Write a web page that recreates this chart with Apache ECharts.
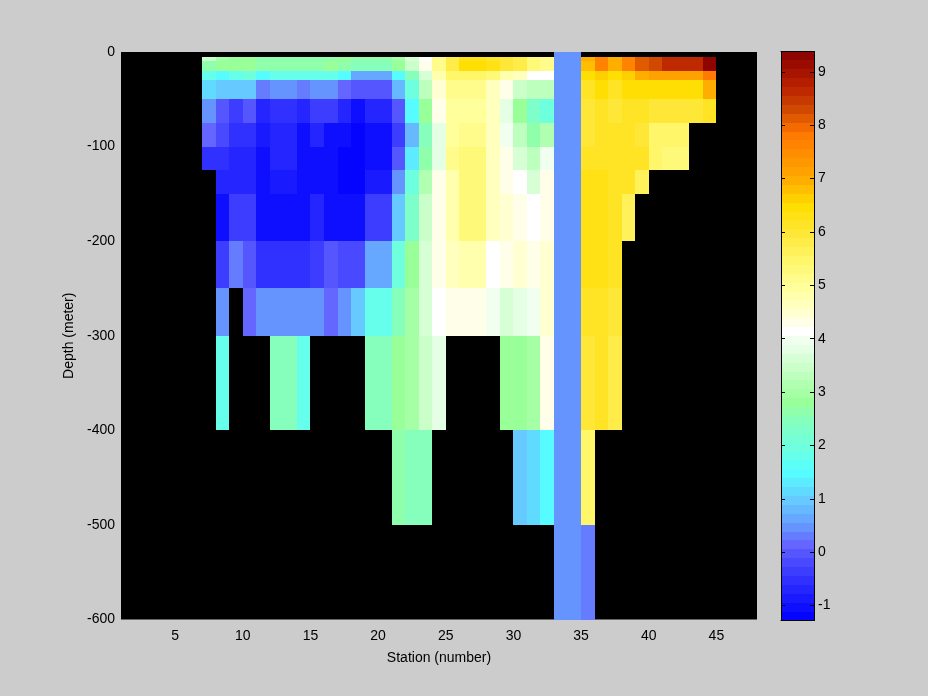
<!DOCTYPE html>
<html>
<head>
<meta charset="utf-8">
<script src="https://cdn.jsdelivr.net/npm/echarts@6/dist/echarts.min.js"></script>
<style>
html,body{margin:0;padding:0;background:#cccccc;}
#chart{width:928px;height:696px;}
</style>
</head>
<body>
<div id="chart"></div>
<script>
// ---------------- data ----------------
const NA = null;
// left edge of each station cell (cells span station .. station+1)
const stations = [7,8,9,10,11,12,13,14,15,16,17,18,19,20,21,22,23,24,25,26,27,28,29,30,31,32,33,34,35,36,37,38,39,40,41,42,43,44];
// depth layer boundaries (m)
const depthEdges = [0,5,10,20,30,50,75,100,125,150,200,250,300,400,500,600];
// x tick labels, colorbar tick labels
const stationTicks = [5,10,15,20,25,30,35,40,45];
const colorTicks = [-1,0,1,2,3,4,5,6,7,8,9];
const colorMin = -1.28, colorMax = 9.38;

// temperature per depth layer, one value per station of `stations`
const t0_5    = [NA,NA,NA,NA,NA,NA,NA,NA,NA,NA,NA,NA,NA,NA,NA,NA,NA,NA,NA,NA,NA,NA,NA,NA,NA,NA,0.4,0.4,NA,NA,NA,NA,NA,NA,NA,NA,NA,NA];
const t5_10   = [3.5,3.05,2.8,2.8,2.65,2.65,2.65,2.65,2.65,2.7,2.8,2.7,2.7,2.7,2.9,3.65,4.15,5.2,5.85,6.25,6.25,6.05,6.0,5.85,5.35,5.2,0.4,0.4,7.0,7.55,7.0,7.55,8.05,8.35,8.7,8.7,8.7,9.25];
const t10_20  = [2.6,2.8,2.8,2.8,2.6,2.6,2.6,2.6,2.6,2.8,2.6,2.4,2.4,2.4,2.8,3.5,4.25,5.2,5.8,6.4,6.4,6.3,6.0,5.8,5.35,5.2,0.4,0.4,6.85,7.55,7.0,7.55,8.05,8.3,8.7,8.7,8.7,9.25];
const t20_30  = [1.75,1.55,1.75,2.0,1.55,1.75,1.75,1.75,1.75,1.75,1.4,0.7,0.7,0.7,1.4,2.45,3.65,4.85,5.5,5.5,5.5,5.35,4.85,4.55,4.15,4.05,0.4,0.4,6.4,6.7,6.4,6.7,6.9,7.2,7.2,7.2,7.2,7.85];
const t30_50  = [1.15,1.0,1.0,1.0,0.33,0.5,0.5,0.33,0.5,0.5,0.12,-0.02,-0.02,-0.02,0.75,2.05,3.3,4.4,5.2,5.2,5.2,4.55,4.3,3.5,3.3,3.3,0.4,0.4,6.1,6.4,6.1,6.4,6.5,6.5,6.5,6.5,6.5,7.0];
const t50_75  = [0.5,0.05,-0.35,-0.05,-0.75,-0.45,-0.45,-0.65,-0.35,-0.35,-0.75,-0.95,-0.75,-0.75,0.05,1.5,2.8,4.25,4.95,4.95,4.95,4.55,3.85,2.8,2.3,2.05,0.4,0.4,5.95,6.2,5.95,6.2,6.05,5.95,5.95,5.95,5.95,6.15];
const t75_100 = [0.12,-0.25,-0.55,-0.55,-0.85,-0.65,-0.65,-0.95,-0.75,-0.95,-1.05,-1.2,-1.05,-1.05,-0.3,0.8,2.5,3.85,5.0,5.2,5.2,4.55,4.0,3.3,2.7,3.1,0.4,0.4,6.0,6.2,6.2,6.2,6.0,5.5,5.5,5.5,NA,NA];
const t100_125= [-0.55,-0.55,-0.7,-0.7,-0.95,-0.65,-0.65,-1.0,-0.95,-1.05,-1.2,-1.2,-1.05,-1.05,-0.05,1.3,2.7,3.85,5.2,5.25,5.25,4.55,4.25,3.65,3.3,4.0,0.4,0.4,6.1,6.2,6.2,6.2,6.2,5.5,5.35,5.35,NA,NA];
const t125_150= [NA,-0.75,-0.75,-0.75,-0.95,-0.85,-0.85,-1.05,-0.95,-1.05,-1.2,-1.2,-0.85,-0.85,0.4,2.05,3.1,4.25,4.85,5.25,5.25,4.55,4.3,4.2,3.65,4.25,0.4,0.4,6.35,6.35,6.1,6.1,5.7,NA,NA,NA,NA,NA];
const t150_200= [NA,-0.95,-0.35,-0.35,-0.95,-0.95,-0.95,-0.95,-0.75,-1.0,-1.1,-1.0,-0.35,-0.35,1.0,2.3,3.5,4.25,4.85,5.25,5.25,4.55,4.45,4.3,4.05,4.3,0.4,0.4,6.35,6.35,6.1,5.7,NA,NA,NA,NA,NA,NA];
const t200_250= [NA,-0.35,0.33,0.05,-0.55,-0.55,-0.55,-0.45,-0.35,-0.1,-0.25,-0.15,0.6,0.6,2.05,2.8,3.65,4.25,4.55,4.85,4.85,4.15,4.3,4.4,4.3,4.4,0.4,0.4,6.35,6.35,6.1,NA,NA,NA,NA,NA,NA,NA];
const t250_300= [NA,0.45,NA,0.2,0.45,0.45,0.45,0.45,0.45,0.2,0.5,1.0,1.75,1.75,2.45,2.95,3.65,4.2,4.3,4.3,4.3,4.0,3.65,3.85,4.0,4.4,0.4,0.4,6.1,6.2,6.0,NA,NA,NA,NA,NA,NA,NA];
const t300_400= [NA,1.75,NA,NA,NA,2.45,2.45,1.75,NA,NA,NA,NA,2.45,2.45,2.8,2.95,3.5,3.85,NA,NA,NA,NA,2.8,2.8,3.0,4.25,0.4,0.4,5.95,6.1,5.8,NA,NA,NA,NA,NA,NA,NA];
const t400_500= [NA,NA,NA,NA,NA,NA,NA,NA,NA,NA,NA,NA,NA,NA,2.6,2.45,2.45,NA,NA,NA,NA,NA,NA,0.9,1.15,1.5,0.4,0.4,5.45,NA,NA,NA,NA,NA,NA,NA,NA,NA];
const t500_600= [NA,NA,NA,NA,NA,NA,NA,NA,NA,NA,NA,NA,NA,NA,NA,NA,NA,NA,NA,NA,NA,NA,NA,NA,NA,NA,0.4,0.4,0.27,NA,NA,NA,NA,NA,NA,NA,NA,NA];

const layers = [t0_5,t5_10,t10_20,t20_30,t30_50,t50_75,t75_100,t100_125,t125_150,t150_200,t200_250,t250_300,t300_400,t400_500,t500_600];

// ---------------- colormap (64 discrete levels) ----------------
const cmapStops = [
  [-1.28,'#0000ff'],[-0.95,'#1414ff'],[-0.5,'#3333ff'],[0,'#5858ff'],[0.15,'#6666ff'],
  [0.5,'#6699ff'],[1.0,'#66ccff'],[1.5,'#55ffff'],[2.0,'#70ffdd'],[2.5,'#88ffbb'],
  [2.8,'#99ff99'],[3.5,'#ccffcc'],[4.15,'#ffffff'],[4.5,'#ffffcc'],[5.0,'#ffff99'],
  [5.5,'#fff566'],[6.0,'#ffe633'],[6.5,'#ffdd00'],[7.0,'#ffaa00'],[7.55,'#ff8800'],
  [7.85,'#ff7700'],[8.35,'#cc4400'],[8.7,'#bb2200'],[9.38,'#880000']
];
const nLevels = 64;
function hexToRgb(h){return [parseInt(h.slice(1,3),16),parseInt(h.slice(3,5),16),parseInt(h.slice(5,7),16)];}
function interpColor(v){
  if (v <= cmapStops[0][0]) return cmapStops[0][1];
  for (let i=1;i<cmapStops.length;i++){
    if (v <= cmapStops[i][0]){
      const a=cmapStops[i-1], b=cmapStops[i];
      const t=(v-a[0])/(b[0]-a[0]);
      const ca=hexToRgb(a[1]), cb=hexToRgb(b[1]);
      const c=ca.map((x,k)=>Math.round(x+(cb[k]-x)*t));
      return 'rgb('+c.join(',')+')';
    }
  }
  return cmapStops[cmapStops.length-1][1];
}
const levelStep = (colorMax-colorMin)/nLevels;
const palette = [];
for (let k=0;k<nLevels;k++) palette.push(interpColor(colorMin+(k+0.5)*levelStep));
function levelOf(v){
  let k=Math.floor((v-colorMin)/levelStep);
  return Math.max(0,Math.min(nLevels-1,k));
}

// ---------------- build cells ----------------
const cells = [];
layers.forEach((row,j)=>{
  row.forEach((v,i)=>{
    if (v===null) return;
    const s=stations[i];
    cells.push([s, s+1, -depthEdges[j], -depthEdges[j+1], v]);
  });
});
const barCells = [];
for (let k=0;k<nLevels;k++) barCells.push([0,1,colorMin+k*levelStep,colorMin+(k+1)*levelStep,k]);

function rectFrom(api, fill){
  const a = api.coord([api.value(0), api.value(2)]);
  const b = api.coord([api.value(1), api.value(3)]);
  const x0=Math.round(Math.min(a[0],b[0])), x1=Math.round(Math.max(a[0],b[0]));
  const y0=Math.round(Math.min(a[1],b[1])), y1=Math.round(Math.max(a[1],b[1]));
  return {type:'rect', shape:{x:x0,y:y0,width:x1-x0,height:y1-y0}, style:{fill:fill}};
}

const font = 'Liberation Sans, Arial, Helvetica, sans-serif';
const blackLine = {show:true, onZero:false, lineStyle:{color:'#000', width:1}};
const chart = echarts.init(document.getElementById('chart'), null, {renderer:'canvas'});
chart.setOption({
  backgroundColor:'#cccccc',
  animation:false,
  textStyle:{fontFamily:font, fontSize:14, color:'#000'},
  grid:[
    {left:121, top:52, width:636, height:567.5, show:true, backgroundColor:'#000000', borderWidth:0},
    {left:781, top:51.5, width:33, height:569, show:false}
  ],
  xAxis:[
    {gridIndex:0, type:'value', min:1, max:48, position:'bottom',
     axisLine:{show:false, onZero:false}, axisTick:{show:false}, splitLine:{show:false},
     axisLabel:{customValues:stationTicks, margin:10, color:'#000', fontFamily:font, fontSize:14},
     name:'Station (number)', nameLocation:'middle', nameGap:32,
     nameTextStyle:{color:'#000', fontFamily:font, fontSize:14}},
    {gridIndex:1, type:'value', min:0, max:1, position:'bottom', z:10,
     axisLine:blackLine, axisTick:{show:false},
     axisLabel:{show:false}, splitLine:{show:false}},
    {gridIndex:1, type:'value', min:0, max:1, position:'top', z:10,
     axisLine:blackLine, axisTick:{show:false},
     axisLabel:{show:false}, splitLine:{show:false}}
  ],
  yAxis:[
    {gridIndex:0, type:'value', min:-600, max:0, interval:100, position:'left',
     axisLine:{show:false, onZero:false}, axisTick:{show:false}, splitLine:{show:false},
     axisLabel:{margin:6, padding:[3,0,0,0], color:'#000', fontFamily:font, fontSize:14},
     name:'Depth (meter)', nameLocation:'middle', nameGap:34,
     nameTextStyle:{color:'#000', fontFamily:font, fontSize:14}},
    {gridIndex:1, type:'value', min:colorMin, max:colorMax, position:'right', z:10,
     axisLine:blackLine,
     axisTick:{show:true, inside:true, length:4, customValues:colorTicks, lineStyle:{color:'#000'}},
     axisLabel:{customValues:colorTicks, margin:4, color:'#000', fontFamily:font, fontSize:14},
     splitLine:{show:false}},
    {gridIndex:1, type:'value', min:colorMin, max:colorMax, position:'left', z:10,
     axisLine:blackLine,
     axisTick:{show:true, inside:true, length:4, customValues:colorTicks, lineStyle:{color:'#000'}},
     axisLabel:{show:false}, splitLine:{show:false}}
  ],
  series:[
    {type:'custom', xAxisIndex:0, yAxisIndex:0, silent:true, data:cells,
     encode:{x:[0,1], y:[2,3]},
     renderItem:function(params, api){ return rectFrom(api, palette[levelOf(api.value(4))]); }},
    {type:'custom', xAxisIndex:1, yAxisIndex:1, silent:true, data:barCells,
     encode:{x:[0,1], y:[2,3]},
     renderItem:function(params, api){ return rectFrom(api, palette[api.value(4)]); }}
  ]
});
</script>
</body>
</html>
